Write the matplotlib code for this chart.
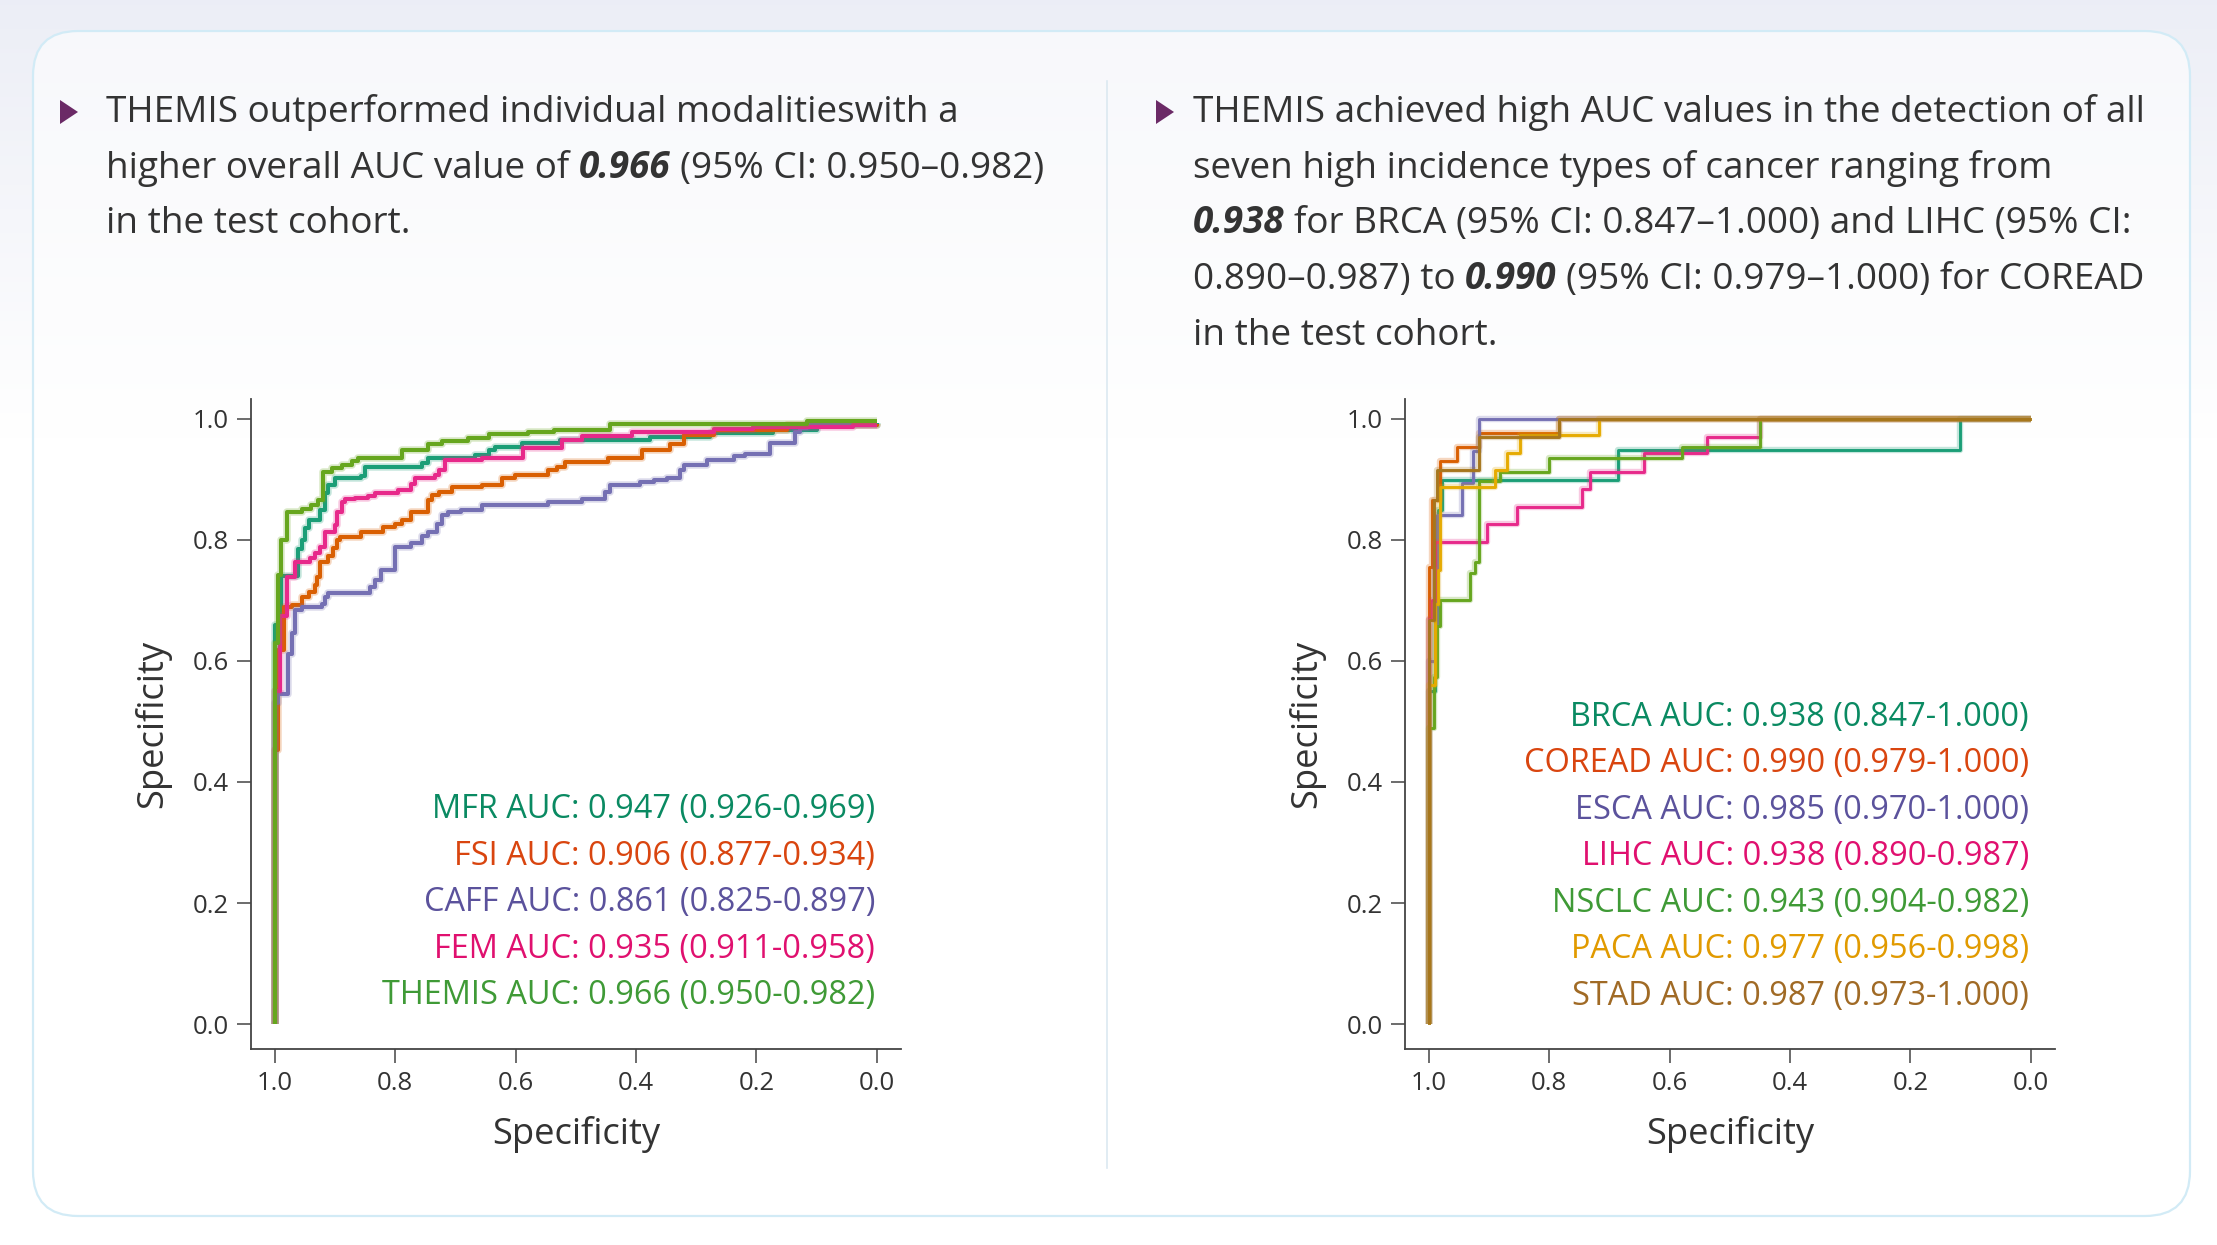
import matplotlib
matplotlib.use("Agg")
import matplotlib.pyplot as plt
import numpy as np
from matplotlib.patches import FancyBboxPatch, Polygon

# =========================
# DATA
# =========================
# left panel: single modalities vs THEMIS
mod_names = ["MFR", "FSI", "CAFF", "FEM", "THEMIS"]
mod_auc = ["0.947", "0.906", "0.861", "0.935", "0.966"]
mod_ci = ["0.926-0.969", "0.877-0.934", "0.825-0.897", "0.911-0.958", "0.950-0.982"]

mfr_spec = [1.0, 1.0, 0.99, 0.961, 0.955, 0.950, 0.944, 0.925, 0.917, 0.911, 0.900, 0.856, 0.850,
            0.756, 0.745, 0.668, 0.645, 0.634, 0.590, 0.526, 0.377, 0.277, 0.172, 0.10, 0.0]
mfr_sens = [0.0, 0.66, 0.74, 0.785, 0.80, 0.819, 0.833, 0.849, 0.877, 0.891, 0.902, 0.905, 0.921,
            0.927, 0.935, 0.941, 0.949, 0.954, 0.960, 0.966, 0.971, 0.976, 0.982, 0.99, 0.993]

fsi_spec = [1.0, 1.0, 0.994, 0.985, 0.972, 0.955, 0.944, 0.933, 0.930, 0.925, 0.911, 0.903, 0.897, 0.892,
            0.856, 0.820, 0.800, 0.789, 0.773, 0.745, 0.739, 0.728, 0.706, 0.656, 0.623, 0.601,
            0.546, 0.532, 0.518, 0.446, 0.390, 0.343, 0.321, 0.271, 0.15, 0.0]
fsi_sens = [0.0, 0.453, 0.618, 0.69, 0.693, 0.706, 0.714, 0.725, 0.739, 0.763, 0.773, 0.786, 0.800, 0.805,
            0.814, 0.822, 0.827, 0.833, 0.847, 0.866, 0.874, 0.880, 0.887, 0.891, 0.902, 0.907,
            0.916, 0.921, 0.929, 0.935, 0.949, 0.958, 0.974, 0.981, 0.99, 0.992]

caff_spec = [1.0, 1.0, 0.994, 0.978, 0.972, 0.966, 0.955, 0.922, 0.917, 0.911, 0.842, 0.834, 0.823, 0.800,
             0.773, 0.756, 0.745, 0.731, 0.723, 0.712, 0.690, 0.656, 0.546, 0.490, 0.451, 0.443,
             0.393, 0.371, 0.349, 0.327, 0.321, 0.282, 0.238, 0.219, 0.177, 0.136, 0.127, 0.116, 0.0]
caff_sens = [0.0, 0.53, 0.546, 0.612, 0.646, 0.684, 0.690, 0.695, 0.706, 0.712, 0.723, 0.734, 0.750, 0.789,
             0.795, 0.806, 0.814, 0.827, 0.841, 0.847, 0.849, 0.858, 0.862, 0.868, 0.880, 0.891,
             0.896, 0.899, 0.903, 0.915, 0.924, 0.933, 0.938, 0.942, 0.960, 0.979, 0.985, 0.991, 0.991]

fem_spec = [1.0, 1.0, 0.992, 0.980, 0.966, 0.941, 0.933, 0.925, 0.917, 0.900, 0.897, 0.889, 0.884,
            0.867, 0.845, 0.834, 0.795, 0.773, 0.767, 0.734, 0.728, 0.717, 0.656, 0.587, 0.523,
            0.490, 0.407, 0.271, 0.205, 0.039, 0.0]
fem_sens = [0.0, 0.55, 0.674, 0.739, 0.763, 0.771, 0.779, 0.789, 0.814, 0.825, 0.846, 0.862, 0.867,
            0.869, 0.873, 0.877, 0.882, 0.893, 0.902, 0.908, 0.916, 0.932, 0.935, 0.952, 0.965,
            0.972, 0.979, 0.983, 0.987, 0.99, 0.99]

themis_spec = [1.0, 1.0, 0.995, 0.989, 0.980, 0.955, 0.940, 0.928, 0.920, 0.905, 0.889, 0.872, 0.861,
               0.789, 0.745, 0.723, 0.679, 0.645, 0.579, 0.537, 0.443, 0.116, 0.0]
themis_sens = [0.0, 0.63, 0.742, 0.80, 0.846, 0.852, 0.858, 0.866, 0.913, 0.919, 0.924, 0.930, 0.936,
               0.949, 0.958, 0.963, 0.969, 0.975, 0.978, 0.981, 0.992, 0.997, 0.997]

mod_curves = [(mfr_spec, mfr_sens), (fsi_spec, fsi_sens), (caff_spec, caff_sens),
              (fem_spec, fem_sens), (themis_spec, themis_sens)]

# right panel: THEMIS per cancer type
can_names = ["BRCA", "COREAD", "ESCA", "LIHC", "NSCLC", "PACA", "STAD"]
can_auc = ["0.938", "0.990", "0.985", "0.938", "0.943", "0.977", "0.987"]
can_ci = ["0.847-1.000", "0.979-1.000", "0.970-1.000", "0.890-0.987",
          "0.904-0.982", "0.956-0.998", "0.973-1.000"]

brca_spec = [1.0, 1.0, 0.99, 0.985, 0.978, 0.685, 0.118, 0.0]
brca_sens = [0.0, 0.55, 0.75, 0.85, 0.899, 0.949, 1.0, 1.0]
coread_spec = [1.0, 1.0, 0.995, 0.981, 0.953, 0.917, 0.784, 0.0]
coread_sens = [0.0, 0.756, 0.866, 0.931, 0.953, 0.976, 1.0, 1.0]
esca_spec = [1.0, 1.0, 0.99, 0.987, 0.945, 0.926, 0.917, 0.0]
esca_sens = [0.0, 0.60, 0.66, 0.841, 0.894, 0.947, 1.0, 1.0]
lihc_spec = [1.0, 1.0, 0.995, 0.989, 0.904, 0.854, 0.746, 0.732, 0.643, 0.538, 0.450, 0.0]
lihc_sens = [0.0, 0.67, 0.70, 0.797, 0.827, 0.855, 0.885, 0.913, 0.943, 0.971, 1.0, 1.0]
nsclc_spec = [1.0, 1.0, 0.992, 0.987, 0.981, 0.931, 0.923, 0.917, 0.882, 0.801, 0.580, 0.450, 0.0]
nsclc_sens = [0.0, 0.49, 0.574, 0.657, 0.701, 0.745, 0.764, 0.898, 0.913, 0.935, 0.953, 1.0, 1.0]
paca_spec = [1.0, 1.0, 0.99, 0.984, 0.981, 0.890, 0.870, 0.848, 0.718, 0.0]
paca_sens = [0.0, 0.56, 0.695, 0.75, 0.888, 0.916, 0.943, 0.973, 1.0, 1.0]
stad_spec = [1.0, 1.0, 0.992, 0.987, 0.917, 0.784, 0.0]
stad_sens = [0.0, 0.668, 0.866, 0.916, 0.971, 1.0, 1.0]

can_curves = [(brca_spec, brca_sens), (coread_spec, coread_sens), (esca_spec, esca_sens),
              (lihc_spec, lihc_sens), (nsclc_spec, nsclc_sens), (paca_spec, paca_sens),
              (stad_spec, stad_sens)]

# line colours (Dark2) and the slightly deeper tones used for the AUC labels
DARK2 = ["#1b9e77", "#d95f02", "#7570b3", "#e7298a", "#66a61e", "#e6ab02", "#a6761d"]
LABEL_COLS = ["#0a8a62", "#d9450f", "#5b529c", "#e0106f", "#3f9a36", "#e19a00", "#a06a25"]

# =========================
# STYLE
# =========================
W, H, DPI = 2217, 1245, 100
FONT = "Open Sans"
INK = "#333333"
AXC = "#444444"
plt.rcParams["font.family"] = [FONT, "DejaVu Sans"]

fig = plt.figure(figsize=(W / DPI, H / DPI), dpi=DPI)
fig.patch.set_facecolor("white")
renderer = fig.canvas.get_renderer()


def text_width(txt, size, strong=False):
    t = fig.text(0, 0, txt, fontsize=size,
                 fontweight="bold" if strong else "normal",
                 fontstyle="italic" if strong else "normal")
    w = t.get_window_extent(renderer).width
    t.remove()
    return w


def fit_size(txt, target_px, base=20.0):
    # the reference face is wider than Open Sans: size runs to the reference line lengths
    return base * target_px / text_width(txt, base)


# =========================
# BACKGROUND + CARD
# =========================
bg = fig.add_axes([0, 0, 1, 1])
bg.set_xlim(0, W)
bg.set_ylim(H, 0)
bg.set_axis_off()
grad = np.linspace(0, 1, 256)[:, None]
top = np.array([0.925, 0.933, 0.965])
bot = np.array([1.0, 1.0, 1.0])
ramp = np.clip(grad / 0.35, 0, 1)
img = top[None, None, :] * (1 - ramp[..., None]) + bot[None, None, :] * ramp[..., None]
bg.imshow(img, extent=[0, W, H, 0], aspect="auto", zorder=0)
card = FancyBboxPatch((33, 31), 2157, 1185, boxstyle="round,pad=0,rounding_size=45",
                      facecolor=(1, 1, 1, 0.6), edgecolor="#d2ebf6", lw=1.6, zorder=1)
bg.add_patch(card)
bg.plot([1107, 1107], [81, 1168], color="#dce9f1", lw=1.2, zorder=2)
for bx in [60, 1156]:
    bg.add_patch(Polygon([[bx, 100], [bx + 18, 112], [bx, 124]], closed=True,
                         facecolor="#6b2a66", edgecolor="none", zorder=3))

# =========================
# PARAGRAPHS (mixed bold italic runs)
# =========================
left_lines = [
    [("THEMIS outperformed individual modalitieswith a", False)],
    [("higher overall AUC value of", False), ("0.966", True), ("(95% CI: 0.950\u20130.982)", False)],
    [("in the test cohort.", False)],
]
right_lines = [
    [("THEMIS achieved high AUC values in the detection of all", False)],
    [("seven high incidence types of cancer ranging from", False)],
    [("0.938", True), ("for BRCA (95% CI: 0.847\u20131.000) and LIHC (95% CI:", False)],
    [("0.890\u20130.987) to", False), ("0.990", True), ("(95% CI: 0.979\u20131.000) for COREAD", False)],
    [("in the test cohort.", False)],
]
PSIZE = 0.5 * (fit_size(left_lines[0][0][0], 850) + fit_size(right_lines[0][0][0], 951))
SPACE = text_width("a a", PSIZE) - text_width("aa", PSIZE)


def rich_line(x, y, parts):
    for i, (txt, strong) in enumerate(parts):
        if i:
            x += SPACE
        t = fig.text(x / W, 1 - y / H, txt, fontsize=PSIZE, color=INK, va="baseline",
                     fontweight="bold" if strong else "normal",
                     fontstyle="italic" if strong else "normal")
        x += t.get_window_extent(renderer).width


LINE_GAP = 55.7
for i, parts in enumerate(left_lines):
    rich_line(106, 122 + i * LINE_GAP, parts)
for i, parts in enumerate(right_lines):
    rich_line(1193, 122 + i * LINE_GAP, parts)

LSIZE = fit_size("THEMIS AUC: 0.966 (0.950-0.982)", 493)
XLSIZE = fit_size("Specificity", 168)


# =========================
# ROC PANELS
# =========================
def roc_panel(left_px, curves, names, aucs, cis, lw, top_row):
    ax = fig.add_axes([left_px / W, 1 - 1049 / H, 650 / W, 650 / H])
    ax.patch.set_alpha(0)
    for (spec, sens), c in zip(curves, DARK2):
        ax.plot(spec, sens, drawstyle="steps-post", color=c, lw=lw + 2.5, alpha=0.25,
                solid_capstyle="butt")
        ax.plot(spec, sens, drawstyle="steps-post", color=c, lw=lw, solid_capstyle="butt")
    ax.set_xlim(1.0395, -0.04)
    ax.set_ylim(-0.0413, 1.033)
    ax.set_xticks([1.0, 0.8, 0.6, 0.4, 0.2, 0.0])
    ax.set_yticks([0.0, 0.2, 0.4, 0.6, 0.8, 1.0])
    ax.xaxis.set_major_formatter(matplotlib.ticker.FormatStrFormatter("%.1f"))
    ax.yaxis.set_major_formatter(matplotlib.ticker.FormatStrFormatter("%.1f"))
    for s in ["top", "right"]:
        ax.spines[s].set_visible(False)
    for s in ["left", "bottom"]:
        ax.spines[s].set_color(AXC)
        ax.spines[s].set_linewidth(1.3)
    ax.tick_params(direction="out", length=10, width=1.1, color=AXC,
                   labelsize=18.5, labelcolor=INK, pad=6)
    ax.set_xlabel("Specificity", fontsize=XLSIZE, color=INK, va="center")
    ax.set_ylabel("Specificity", fontsize=XLSIZE, color=INK, va="center")
    ax.xaxis.set_label_coords(0.5, -0.132)
    ax.yaxis.set_label_coords(-0.151, 0.5)
    for i, (n, a, ci, c) in enumerate(zip(names, aucs, cis, LABEL_COLS)):
        ax.text(0.003, top_row - i * 0.0768, f"{n} AUC: {a} ({ci})", color=c,
                fontsize=LSIZE, ha="right", va="center")
    return ax


roc_panel(251, mod_curves, mod_names, mod_auc, mod_ci, 2.9, 0.354)
roc_panel(1405, can_curves, can_names, can_auc, can_ci, 2.1, 0.507)

fig.savefig("out.png", dpi=DPI)
